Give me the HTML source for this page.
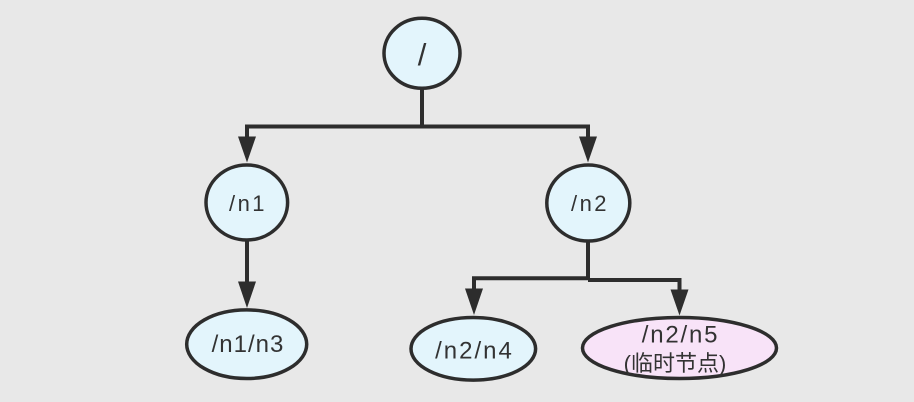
<!DOCTYPE html>
<html>
<head>
<meta charset="utf-8">
<style>
  html, body { margin: 0; padding: 0; background: #e8e8e8; }
  body { width: 914px; height: 402px; overflow: hidden; }
  svg { display: block; }
  text { font-family: "Liberation Sans", "Noto Sans CJK SC", sans-serif; fill: #333; }
</style>
</head>
<body>
<svg width="914" height="402" viewBox="0 0 914 402" xmlns="http://www.w3.org/2000/svg">
  <rect x="0" y="0" width="914" height="402" fill="#e8e8e8"/>

  <!-- connectors -->
  <g stroke="#2d2d2d" stroke-width="4" fill="none" stroke-linecap="butt" stroke-linejoin="miter">
    <!-- root to n1/n2 -->
    <path d="M422 88 L422 126.5"/>
    <path d="M247 138 L247 126.5 L588 126.5 L588 138"/>
    <!-- n1 to n3 -->
    <path d="M247 240 L247 284"/>
    <!-- n2 to n4/n5 -->
    <path d="M588 241 L588 279"/>
    <path d="M474 291 L474 278.3 L588 278.3"/>
    <path d="M588 280 L679.5 280 L679.5 292"/>
  </g>

  <!-- arrowheads -->
  <g fill="#2d2d2d" stroke="none">
    <polygon points="238,136.5 256,136.5 247,162.5"/>
    <polygon points="579,136.5 597,136.5 588,162.5"/>
    <polygon points="238,281.5 256,281.5 247,308"/>
    <polygon points="465,288.5 483,288.5 474,315"/>
    <polygon points="670.5,289.5 688.5,289.5 679.5,315.5"/>
  </g>

  <!-- nodes -->
  <g stroke="#2d2d2d" stroke-width="3.5">
    <ellipse cx="422" cy="53.3" rx="38" ry="35" fill="#e3f5fc"/>
    <ellipse cx="246.8" cy="202.5" rx="40.8" ry="37.5" fill="#e3f5fc"/>
    <ellipse cx="588.3" cy="203" rx="41.5" ry="38" fill="#e3f5fc"/>
    <ellipse cx="246.7" cy="344.2" rx="60" ry="34.3" fill="#e3f5fc"/>
    <ellipse cx="473.3" cy="348.8" rx="62.3" ry="31.3" fill="#e3f5fc"/>
    <ellipse cx="679.5" cy="348" rx="97" ry="30.5" fill="#f8e3f8"/>
  </g>

  <!-- labels -->
  <text x="422" y="65" font-size="31" text-anchor="middle">/</text>
  <text x="248" y="211" font-size="22" text-anchor="middle" letter-spacing="2.5">/n1</text>
  <text x="590" y="211" font-size="22" text-anchor="middle" letter-spacing="2.5">/n2</text>
  <text x="248" y="352" font-size="24" text-anchor="middle" letter-spacing="1">/n1/n3</text>
  <text x="474.5" y="358.3" font-size="24" text-anchor="middle" letter-spacing="2">/n2/n4</text>
  <text x="680.5" y="342.7" font-size="24" text-anchor="middle" letter-spacing="1.8">/n2/n5</text>
  <text x="675" y="371" font-size="22" text-anchor="middle">(临时节点)</text>
</svg>
</body>
</html>
